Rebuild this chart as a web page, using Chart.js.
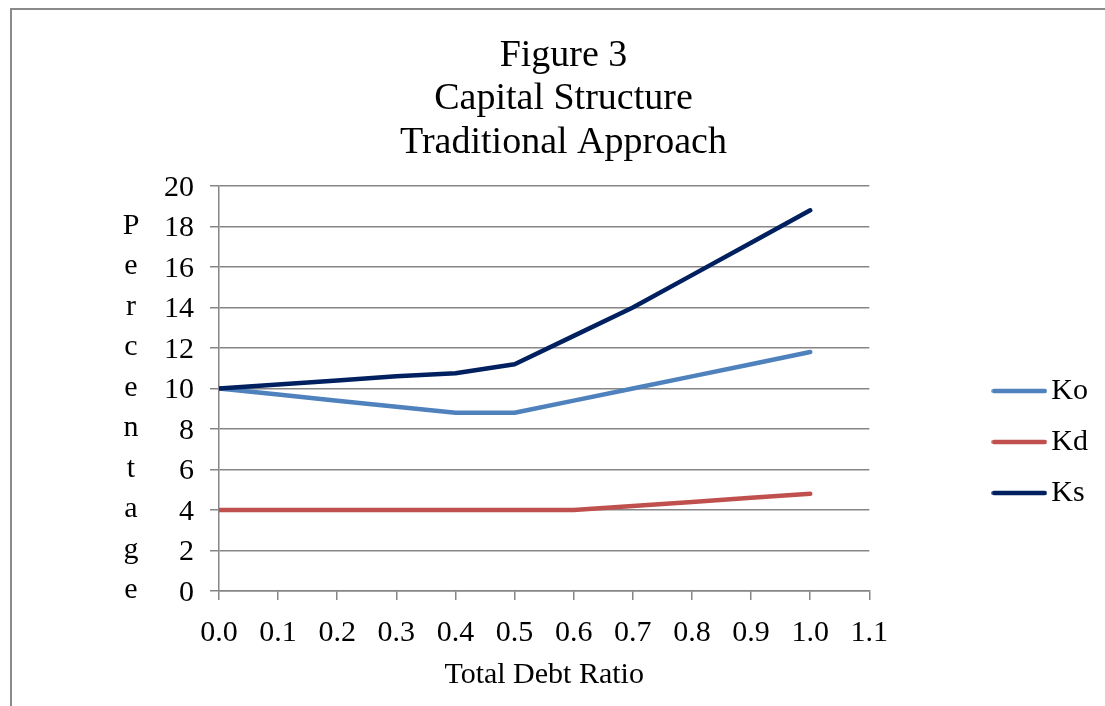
<!DOCTYPE html>
<html>
<head>
<meta charset="utf-8">
<title>Capital Structure – Traditional Approach</title>
<script src="https://cdn.jsdelivr.net/npm/chart.js@4.4.1/dist/chart.umd.min.js"></script>
<style>
  html, body { margin: 0; padding: 0; background: #fff; overflow: hidden; width: 1105px; height: 706px; }
  #frame { position: absolute; left: 10px; top: 8px; width: 1200px; height: 900px;
           border-left: 2px solid #8a8a8a; border-top: 2px solid #8a8a8a; background: #fff; }
  #chart { display: block; }
</style>
</head>
<body>
<div id="frame"><canvas id="chart" width="1086" height="864"></canvas></div>
<script>
// ---- data ----
const debtRatio = [0.0, 0.1, 0.2, 0.3, 0.4, 0.5, 0.6, 0.7, 0.8, 0.9, 1.0];
const koValues  = [10.0, 9.7, 9.4, 9.1, 8.8, 8.8, 9.4, 10.0, 10.6, 11.2, 11.8];
const kdValues  = [4.0, 4.0, 4.0, 4.0, 4.0, 4.0, 4.0, 4.2, 4.4, 4.6, 4.8];
const ksValues  = [10.0, 10.2, 10.4, 10.6, 10.75, 11.2, 12.6, 14.0, 15.6, 17.2, 18.8];

const seriesNames  = ['Ko', 'Kd', 'Ks'];
const seriesColors = ['#4f81bd', '#c0504d', '#002060'];

const xTickValues = [0.0, 0.1, 0.2, 0.3, 0.4, 0.5, 0.6, 0.7, 0.8, 0.9, 1.0, 1.1];
const yTickValues = [0, 2, 4, 6, 8, 10, 12, 14, 16, 18, 20];

const titleLines = ['Figure 3', 'Capital Structure', 'Traditional Approach'];
const xAxisTitle = 'Total Debt Ratio';
const yAxisTitle = 'Percentage';

// ---- styling ----
const FONT = "'Liberation Serif', 'Times New Roman', serif";
const GRID = '#868686';

// short line swatch used as the legend marker
function legendLine(color) {
  const c = document.createElement('canvas');
  c.width = 56; c.height = 8;
  const g = c.getContext('2d');
  g.strokeStyle = color; g.lineWidth = 4.5; g.lineCap = 'round';
  g.beginPath(); g.moveTo(2.5, 4); g.lineTo(53.5, 4); g.stroke();
  return c;
}

function makeSeries(i, values) {
  return {
    label: seriesNames[i],
    data: values.map((v, k) => ({ x: debtRatio[k], y: v })),
    borderColor: seriesColors[i],
    backgroundColor: seriesColors[i],
    borderWidth: 4.5,
    borderCapStyle: 'round',
    borderJoinStyle: 'round',
    pointRadius: 0,
    pointHoverRadius: 0,
    pointStyle: legendLine(seriesColors[i]),
    tension: 0,
    fill: false,
    order: 2 - i
  };
}

// stacked, upright letters for the vertical axis caption
const yLetterTitle = {
  id: 'yLetterTitle',
  afterDraw(chart) {
    const ys = chart.scales.y;
    const ctx = chart.ctx;
    ctx.save();
    ctx.font = '30px ' + FONT;
    ctx.fillStyle = '#000';
    ctx.textAlign = 'center';
    ctx.textBaseline = 'alphabetic';
    Array.from(yAxisTitle).forEach((ch, i) => {
      const v = yTickValues[yTickValues.length - 2 - i];
      ctx.fillText(ch, ys.left + 102, ys.getPixelForValue(v) + 7);
    });
    ctx.restore();
  }
};

new Chart(document.getElementById('chart'), {
  type: 'line',
  data: {
    datasets: [
      makeSeries(0, koValues),
      makeSeries(1, kdValues),
      makeSeries(2, ksValues)
    ]
  },
  options: {
    responsive: false,
    animation: false,
    events: [],
    layout: { padding: { left: 17, right: 0, top: 0, bottom: 0 } },
    plugins: {
      title: {
        display: true,
        text: titleLines,
        color: '#000',
        font: { family: FONT, size: 38, weight: 'normal', lineHeight: 1.145 },
        padding: { top: 24.25, bottom: 21.25 }
      },
      legend: {
        position: 'right',
        align: 'center',
        labels: {
          usePointStyle: true,
          pointStyleWidth: 34,
          padding: 21,
          color: '#000',
          font: { family: FONT, size: 30 },
          sort: (a, b) => a.datasetIndex - b.datasetIndex
        }
      },
      tooltip: { enabled: false }
    },
    scales: {
      x: {
        type: 'linear',
        position: 'bottom',
        min: 0,
        max: 1.1,
        afterBuildTicks: s => { s.ticks = xTickValues.map(v => ({ value: v })); },
        afterFit: s => { s.height = 283; },
        ticks: {
          callback: v => Number(v).toFixed(1),
          color: '#000',
          font: { family: FONT, size: 30 },
          padding: 15,
          maxRotation: 0,
          autoSkip: false
        },
        grid: { drawOnChartArea: false, drawTicks: true, tickLength: 9, color: GRID, lineWidth: 1.5 },
        border: { display: true, color: GRID, width: 1.5 },
        title: {
          display: true,
          text: xAxisTitle,
          color: '#000',
          font: { family: FONT, size: 30 },
          padding: { top: 7, bottom: 181 }
        }
      },
      y: {
        type: 'linear',
        position: 'left',
        min: 0,
        max: 20,
        afterBuildTicks: s => { s.ticks = yTickValues.map(v => ({ value: v })); },
        afterFit: s => { s.width = 190; },
        ticks: { color: '#000', font: { family: FONT, size: 30 }, padding: 16, labelOffset: 2 },
        grid: { color: GRID, lineWidth: 1.5, drawTicks: true, tickLength: 9 },
        border: { display: true, color: GRID, width: 1.5 }
      },
      yGap: {
        axis: 'y',
        type: 'linear',
        position: 'right',
        display: true,
        grid: { display: false },
        border: { display: false },
        ticks: { display: false },
        afterFit: s => { s.width = 112; }
      }
    }
  },
  plugins: [yLetterTitle]
});
</script>
</body>
</html>
